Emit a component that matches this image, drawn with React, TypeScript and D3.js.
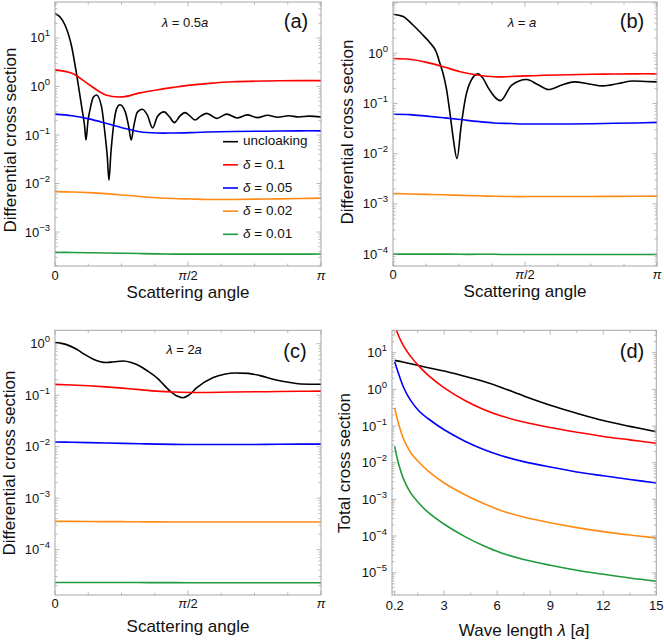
import * as d3 from "d3";
import { useEffect, useRef } from "react";

const PI = Math.PI;

// angle grid for the smooth (cloaked) curves, radians
const angleGrid = [0, 0.2, 0.4, 0.6, 0.8, 1.0, 1.2, 1.4, 1.6, 1.8, 2.1, 2.5, 2.9, PI];

// (a) lambda = 0.5a
const aBlackAngle = [
  0, 0.06, 0.118, 0.197, 0.256, 0.315, 0.35, 0.366, 0.39, 0.413, 0.452, 0.49, 0.55, 0.59, 0.618,
  0.637, 0.66, 0.69, 0.728, 0.767, 0.83, 0.87, 0.9, 0.93, 0.97, 1.03, 1.09, 1.153, 1.21, 1.29,
  1.35, 1.41, 1.47, 1.535, 1.595, 1.653, 1.72, 1.79, 1.85, 1.91, 1.97, 2.03, 2.15, 2.27, 2.39,
  2.51, 2.63, 2.76, 2.88, 3.0, PI,
];
const aBlack = [
  32, 27, 18.5, 6.6, 1.74, 0.38, 0.15, 0.079, 0.2, 0.33, 0.6, 0.67, 0.38, 0.108, 0.035,
  0.0117, 0.042, 0.148, 0.35, 0.42, 0.3, 0.15, 0.079, 0.15, 0.29, 0.34, 0.26, 0.14, 0.24, 0.3,
  0.24, 0.18, 0.24, 0.29, 0.245, 0.204, 0.245, 0.28, 0.25, 0.22, 0.245, 0.27, 0.225, 0.26, 0.228,
  0.255, 0.232, 0.25, 0.235, 0.245, 0.235,
];
const aRed = [2.2, 1.87, 1.1, 0.67, 0.61, 0.74, 0.85, 0.96, 1.07, 1.15, 1.25, 1.3, 1.32, 1.32];
const aBlue = [0.27, 0.25, 0.215, 0.175, 0.14, 0.117, 0.11, 0.11, 0.112, 0.115, 0.118, 0.12, 0.122, 0.122];
const aOrange = [0.0068, 0.0067, 0.0065, 0.0062, 0.0058, 0.0054, 0.0051, 0.0049, 0.0048, 0.0047, 0.0047, 0.0048, 0.0049, 0.005];
const aGreen = [3.8e-4, 3.8e-4, 3.75e-4, 3.7e-4, 3.65e-4, 3.6e-4, 3.55e-4, 3.5e-4, 3.5e-4, 3.5e-4, 3.5e-4, 3.5e-4, 3.5e-4, 3.52e-4];

// (b) lambda = a
const bBlackAngle = [
  0, 0.119, 0.238, 0.357, 0.437, 0.516, 0.556, 0.595, 0.635, 0.675, 0.714, 0.762, 0.81, 0.865,
  0.93, 1.01, 1.07, 1.13, 1.28, 1.41, 1.59, 1.72, 1.85, 2.0, 2.16, 2.33, 2.5, 2.68, 2.86, 3.0, PI,
];
const bBlack = [
  6.0, 5.4, 3.66, 2.3, 1.65, 1.05, 0.65, 0.4, 0.2, 0.07, 0.022, 0.008, 0.035, 0.136,
  0.29, 0.39, 0.32, 0.21, 0.114, 0.23, 0.3, 0.24, 0.19, 0.23, 0.27, 0.245, 0.224, 0.25, 0.28, 0.275, 0.27,
];
const bRed = [0.79, 0.76, 0.66, 0.54, 0.43, 0.37, 0.34, 0.345, 0.355, 0.365, 0.375, 0.385, 0.39, 0.39];
const bBlue = [0.061, 0.06, 0.056, 0.052, 0.048, 0.044, 0.041, 0.04, 0.039, 0.039, 0.039, 0.04, 0.041, 0.042];
const bOrange = [1.6e-3, 1.58e-3, 1.55e-3, 1.52e-3, 1.48e-3, 1.45e-3, 1.42e-3, 1.4e-3, 1.4e-3, 1.4e-3, 1.4e-3, 1.41e-3, 1.42e-3, 1.43e-3];
const bGreen = [1.0e-4, 1.0e-4, 1.0e-4, 1.0e-4, 0.99e-4, 0.99e-4, 0.99e-4, 0.98e-4, 0.98e-4, 0.98e-4, 0.98e-4, 0.98e-4, 0.98e-4, 0.98e-4];

// (c) lambda = 2a
const cBlackAngle = [
  0, 0.128, 0.256, 0.35, 0.453, 0.603, 0.7, 0.808, 0.9, 1.0, 1.1, 1.2, 1.36, 1.45, 1.51, 1.58,
  1.675, 1.87, 2.0, 2.13, 2.28, 2.42, 2.6, 2.74, 2.9, PI,
];
const cBlack = [
  1.05, 0.97, 0.78, 0.62, 0.5, 0.43, 0.445, 0.46, 0.43, 0.37, 0.29, 0.22, 0.12, 0.095, 0.089, 0.1,
  0.14, 0.22, 0.255, 0.27, 0.265, 0.24, 0.2, 0.18, 0.165, 0.163,
];
const cRed = [0.162, 0.158, 0.152, 0.145, 0.137, 0.128, 0.12, 0.115, 0.113, 0.113, 0.115, 0.117, 0.119, 0.12];
const cBlue = [0.0123, 0.0122, 0.012, 0.0118, 0.0116, 0.0114, 0.0112, 0.0111, 0.011, 0.011, 0.011, 0.0111, 0.0112, 0.0112];
const cOrange = [3.55e-4, 3.55e-4, 3.53e-4, 3.5e-4, 3.5e-4, 3.48e-4, 3.46e-4, 3.45e-4, 3.45e-4, 3.45e-4, 3.45e-4, 3.45e-4, 3.45e-4, 3.45e-4];
const cGreen = [2.3e-5, 2.3e-5, 2.3e-5, 2.3e-5, 2.3e-5, 2.3e-5, 2.29e-5, 2.29e-5, 2.28e-5, 2.28e-5, 2.28e-5, 2.28e-5, 2.28e-5, 2.28e-5];

// (d) total cross section vs wave length
const waveLength = [0.2, 0.43, 0.71, 1.1, 1.6, 2.1, 3, 4.2, 5.2, 6.2, 7.5, 9, 10.5, 12, 13.5, 15];
const dBlack = [6.17, 5.89, 5.5, 5.01, 4.42, 3.89, 3.16, 2.24, 1.66, 1.15, 0.66, 0.37, 0.224, 0.141, 0.098, 0.07];
const dRed = [56, 28.2, 15.1, 7.94, 4.17, 2.4, 1.1, 0.49, 0.288, 0.19, 0.129, 0.091, 0.068, 0.052, 0.042, 0.034];
const dBlue = [5.69, 2.57, 1.11, 0.5, 0.25, 0.158, 0.079, 0.038, 0.0234, 0.0158, 0.0107, 0.0076, 0.0056, 0.0044, 0.0035, 0.0028];
const dOrange = [0.316, 0.11, 0.0437, 0.019, 0.01, 0.0059, 0.0028, 0.00132, 0.00078, 0.0005, 0.00033, 0.00023, 0.00017, 0.000132, 0.000107, 0.000089];
const dGreen = [0.028, 0.0089, 0.0035, 0.0015, 0.00076, 0.00044, 0.00021, 0.000095, 0.000055, 0.000035, 0.000023, 0.000016, 0.0000117, 0.0000091, 0.0000072, 0.0000059];

const colors = ["#000000", "#ff0000", "#0000ff", "#ff8a14", "#1f9a3c"];
const legendLabels = ["uncloaking", "0.1", "0.05", "0.02", "0.01"];

const FONT = "'Liberation Sans', Arial, sans-serif";
const GRAY = "#a6a6a6";

export default function App() {
  const ref = useRef(null);

  useEffect(() => {
    document.body.style.margin = "0";
    const svg = d3.select(ref.current);
    svg.selectAll("*").remove();

    const panels = [
      {
        id: "a", x0: 55, x1: 321, y0: 2, y1: 266, xDom: [0, PI], yDom: [-3.70, 1.742],
        yExp: [1, 0, -1, -2, -3], ylab: "Differential cross section", ylabX: 12, ylabY: 140,
        tickY: 276, xlabY: 294, tag: [296, 23],
        series: [
          [aBlackAngle, aBlack], [angleGrid, aRed], [angleGrid, aBlue], [angleGrid, aOrange], [angleGrid, aGreen],
        ],
      },
      {
        id: "b", x0: 393, x1: 657, y0: 2, y1: 266, xDom: [0, PI], yDom: [-4.237, 1.022],
        yExp: [0, -1, -2, -3, -4], ylab: "Differential cross section", ylabX: 349, ylabY: 132,
        tickY: 275, xlabY: 293, tag: [632, 23],
        series: [
          [bBlackAngle, bBlack], [angleGrid, bRed], [angleGrid, bBlue], [angleGrid, bOrange], [angleGrid, bGreen],
        ],
      },
      {
        id: "c", x0: 55, x1: 321, y0: 330.3, y1: 595, xDom: [0, PI], yDom: [-4.88, 0.26],
        yExp: [0, -1, -2, -3, -4], ylab: "Differential cross section", ylabX: 11, ylabY: 463,
        tickY: 604, xlabY: 628, tag: [295, 353],
        series: [
          [cBlackAngle, cBlack], [angleGrid, cRed], [angleGrid, cBlue], [angleGrid, cOrange], [angleGrid, cGreen],
        ],
      },
      {
        id: "d", x0: 392, x1: 656.3, y0: 330.3, y1: 595, xDom: [0.047, 15], yDom: [-5.608, 1.611],
        yExp: [1, 0, -1, -2, -3, -4, -5], ylab: "Total cross section", ylabX: 346, ylabY: 463,
        tickY: 606, xlabY: 632, tag: [632, 353],
        series: [
          [waveLength, dBlack], [waveLength, dRed], [waveLength, dBlue], [waveLength, dOrange], [waveLength, dGreen],
        ],
      },
    ];

    panels.forEach((p) => {
      const x = d3.scaleLinear().domain(p.xDom).range([p.x0, p.x1]);
      const y = d3.scaleLog().domain([10 ** p.yDom[0], 10 ** p.yDom[1]]).range([p.y1, p.y0]);
      const g = svg.append("g");

      g.append("clipPath").attr("id", "clip-" + p.id)
        .append("rect").attr("x", p.x0).attr("y", p.y0)
        .attr("width", p.x1 - p.x0).attr("height", p.y1 - p.y0);

      // curves: oscillating uncloaked curves keep their extrema, the rest are smooth splines
      p.series.forEach((s, i) => {
        const oscillating = i === 0 && p.id !== "d";
        const line = d3.line<[number, number]>()
          .x((d) => x(d[0])).y((d) => y(d[1]))
          .curve(oscillating ? d3.curveMonotoneX : d3.curveCatmullRom.alpha(0.5));
        const pts = s[0].map((t: number, k: number) => [t, s[1][k]] as [number, number]);
        g.append("path").attr("d", line(pts)!)
          .attr("clip-path", `url(#clip-${p.id})`)
          .attr("fill", "none").attr("stroke", colors[i]).attr("stroke-width", 1.6)
          .attr("stroke-linejoin", "round");
      });

      // frame
      g.append("rect").attr("x", p.x0).attr("y", p.y0)
        .attr("width", p.x1 - p.x0).attr("height", p.y1 - p.y0)
        .attr("fill", "none").attr("stroke", GRAY).attr("stroke-width", 1);

      // log ticks, left and right
      const lo = Math.floor(p.yDom[0]), hi = Math.ceil(p.yDom[1]);
      for (let e = lo; e <= hi; e++) {
        for (let m = 1; m <= 9; m++) {
          const yy = y(m * 10 ** e);
          if (yy < p.y0 || yy > p.y1) continue;
          const len = m === 1 ? 4.5 : 2.5;
          g.append("line").attr("x1", p.x0).attr("x2", p.x0 + len).attr("y1", yy).attr("y2", yy)
            .attr("stroke", GRAY).attr("stroke-width", 0.8);
          g.append("line").attr("x1", p.x1).attr("x2", p.x1 - len).attr("y1", yy).attr("y2", yy)
            .attr("stroke", GRAY).attr("stroke-width", 0.8);
        }
      }
      p.yExp.forEach((e) => {
        const t = g.append("text").attr("x", p.x0 - 5).attr("y", y(10 ** e) + 4.5)
          .attr("text-anchor", "end").attr("font-family", FONT).attr("font-size", 13).attr("fill", "#111");
        t.append("tspan").text("10");
        t.append("tspan").attr("dy", -6).attr("font-size", 9.5).text(e < 0 ? "\u2212" + -e : String(e));
      });

      // x ticks, bottom and top
      const xt = p.id === "d"
        ? [0.2, 3, 6, 9, 12, 15].map((v) => ({ v, label: String(v) }))
        : [{ v: 0, label: "0" }, { v: PI / 2, label: "\u03c0/2" }, { v: PI, label: "\u03c0" }];
      xt.forEach((t) => {
        const xx = x(t.v);
        g.append("line").attr("x1", xx).attr("x2", xx).attr("y1", p.y1).attr("y2", p.y1 - 4.5)
          .attr("stroke", GRAY).attr("stroke-width", 0.8);
        g.append("line").attr("x1", xx).attr("x2", xx).attr("y1", p.y0).attr("y2", p.y0 + 4.5)
          .attr("stroke", GRAY).attr("stroke-width", 0.8);
        const tx = g.append("text").attr("x", xx).attr("y", p.tickY + 4)
          .attr("text-anchor", "middle").attr("font-family", FONT).attr("font-size", 13).attr("fill", "#111");
        if (t.label.startsWith("\u03c0")) {
          tx.append("tspan").attr("font-style", "italic").text("\u03c0");
          if (t.label.length > 1) tx.append("tspan").text("/2");
        } else tx.text(t.label);
      });
      // minor x ticks
      const minor = p.id === "d" ? d3.range(1.5, 15, 1.5) : d3.range(1, 8).map((k) => (k * PI) / 8);
      minor.forEach((v) => {
        if (p.id === "d" && Math.abs(v % 3) < 1e-9) return;
        if (p.id !== "d" && Math.abs(v - PI / 2) < 1e-9) return;
        const xx = x(v);
        g.append("line").attr("x1", xx).attr("x2", xx).attr("y1", p.y1).attr("y2", p.y1 - 2.5)
          .attr("stroke", GRAY).attr("stroke-width", 0.8);
        g.append("line").attr("x1", xx).attr("x2", xx).attr("y1", p.y0).attr("y2", p.y0 + 2.5)
          .attr("stroke", GRAY).attr("stroke-width", 0.8);
      });

      // axis labels
      g.append("text").attr("transform", `translate(${p.ylabX},${p.ylabY}) rotate(-90)`)
        .attr("text-anchor", "middle").attr("dominant-baseline", "middle")
        .attr("font-family", FONT).attr("font-size", 17).attr("fill", "#111").text(p.ylab);
      const xl = g.append("text").attr("x", (p.x0 + p.x1) / 2).attr("y", p.xlabY)
        .attr("text-anchor", "middle").attr("dominant-baseline", "middle")
        .attr("font-family", FONT).attr("font-size", 17).attr("fill", "#111");
      if (p.id === "d") {
        xl.append("tspan").text("Wave length ");
        xl.append("tspan").attr("font-style", "italic").text("\u03bb");
        xl.append("tspan").text(" [");
        xl.append("tspan").attr("font-style", "italic").text("a");
        xl.append("tspan").text("]");
      } else xl.text("Scattering angle");

      // panel tag
      g.append("text").attr("x", p.tag[0]).attr("y", p.tag[1]).attr("text-anchor", "middle")
        .attr("dominant-baseline", "middle").attr("font-family", FONT).attr("font-size", 20)
        .attr("fill", "#111").text(`(${p.id})`);
    });

    // wave length annotations
    const notes = [
      { x: 185, y: 24, pre: "0.5" },
      { x: 522, y: 24, pre: "" },
      { x: 184, y: 351, pre: "2" },
    ];
    notes.forEach((n) => {
      const t = svg.append("text").attr("x", n.x).attr("y", n.y).attr("text-anchor", "middle")
        .attr("dominant-baseline", "middle").attr("font-family", FONT).attr("font-size", 13).attr("fill", "#111");
      t.append("tspan").attr("font-style", "italic").text("\u03bb");
      t.append("tspan").text(" = " + n.pre);
      t.append("tspan").attr("font-style", "italic").text("a");
    });

    // legend in panel (a)
    const legendY = d3.scaleLinear().domain([0, 4]).range([141.7, 234.3]);
    legendLabels.forEach((lab, i) => {
      const yy = legendY(i);
      svg.append("line").attr("x1", 223).attr("x2", 238).attr("y1", yy).attr("y2", yy)
        .attr("stroke", colors[i]).attr("stroke-width", 1.6);
      const t = svg.append("text").attr("x", 243).attr("y", yy).attr("dominant-baseline", "middle")
        .attr("font-family", FONT).attr("font-size", 13.5).attr("fill", "#111");
      if (i === 0) t.text(lab);
      else {
        t.append("tspan").attr("font-style", "italic").text("\u03b4");
        t.append("tspan").text(" = " + lab);
      }
    });
  }, []);

  return <svg ref={ref} width={664} height={642} style={{ display: "block", background: "#fff" }} />;
}
